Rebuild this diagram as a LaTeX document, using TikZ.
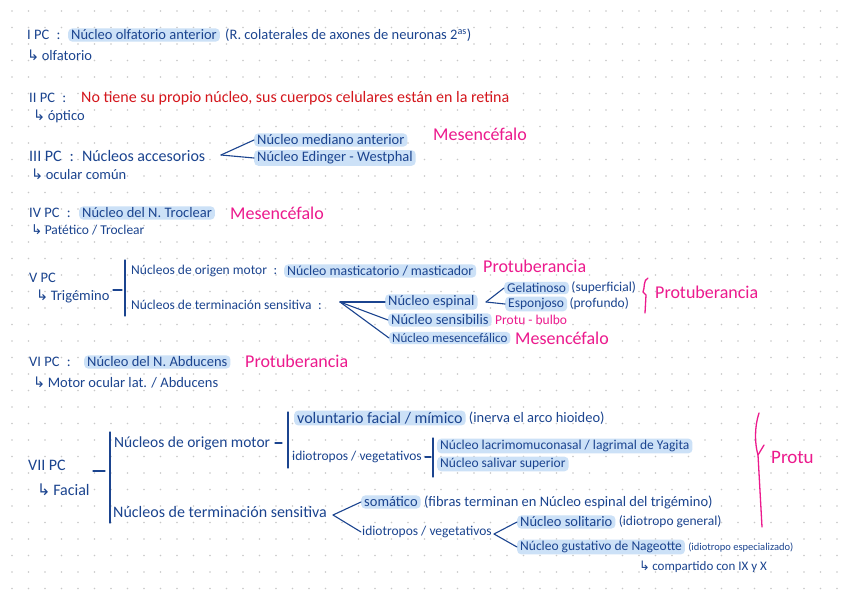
\documentclass[tikz,border=0pt]{standalone}
\usepackage{fontspec}
\setmainfont{Carlito}
\newfontfamily\arrowfont{DejaVu Sans}
\usetikzlibrary{positioning}
\definecolor{ink}{HTML}{1B448F}
\definecolor{hilite}{HTML}{CCE1F7}
\definecolor{pinkink}{HTML}{EC1A8D}
\definecolor{redink}{HTML}{D4161C}
\definecolor{griddot}{HTML}{C8C8C8}
\newcommand{\hookto}{{\arrowfont\char"21B3}\,}

\begin{document}
\begin{tikzpicture}[x=1pt, y=-1pt,
txt/.style={anchor=west, inner sep=1pt, text=ink, font=\fontsize{14.5}{16}\selectfont},
txtbig/.style={txt, font=\fontsize{16}{18}\selectfont},
txtmid/.style={txt, font=\fontsize{13}{15}\selectfont},
txtsmall/.style={txt, font=\fontsize{13.5}{15}\selectfont},
txttiny/.style={txt, font=\fontsize{10.5}{12}\selectfont},
hl/.style={fill=hilite, rounded corners=4pt, inner xsep=3pt, inner ysep=1.5pt},
mag/.style={anchor=west, inner sep=1pt, text=pinkink, font=\fontsize{18}{20}\selectfont},
stroke/.style={draw=ink, line width=1.1pt, line cap=round},
pinkstroke/.style={draw=pinkink, line width=1.3pt, line cap=round, line join=round},
]
\useasboundingbox (0,0) rectangle (848,599);
\fill[white] (0,0) rectangle (848,599);
\foreach \gx in {0,...,50}
  \foreach \gy in {0,...,35}
    \fill[griddot] ({12+16.5*\gx},{11+16.5*\gy}) circle (0.9pt);

%Nodes
% I
\node[txt]          (pcI)     at (26,35)  {I PC\enspace:};
\node[txt,hl]       (olfnuc)  at (68,35)  {Núcleo olfatorio anterior};
\node[txt]          (olframa) [right=4pt of olfnuc] {(R. colaterales de axones de neuronas 2\textsuperscript{as})};
\node[txt]          (olfname) at (26,55)  {\hookto olfatorio};
% II
\node[txt]          (pcII)    at (28,98)  {II PC\enspace:};
\node[txt,text=redink,font=\fontsize{16}{18}\selectfont] (optnote) at (80,98) {No tiene su propio núcleo, sus cuerpos celulares están en la retina};
\node[txt]          (optname) at (32,116) {\hookto óptico};
% III
\node[txtbig]       (pcIII)   at (28,156) {III PC\enspace:\enspace Núcleos accesorios};
\node[txt,hl]       (medant)  at (254,140) {Núcleo mediano anterior};
\node[txt,hl]       (edwest)  at (254,158) {Núcleo Edinger - Westphal};
\node[mag]          (mesIII)  at (432,134) {Mesencéfalo};
\node[txt]          (ocuname) at (30,174) {\hookto ocular común};
\coordinate         (accfan)  at (221,155);
% IV
\node[txt]          (pcIV)    at (28,213) {IV PC\enspace:};
\node[txt,hl]       (trocnuc) at (79,213) {Núcleo del N. Troclear};
\node[mag]          (mesIV)   at (229,213) {Mesencéfalo};
\node[txtsmall]     (trocname) at (30,230) {\hookto Patético / Troclear};
% V
\node[txt]          (pcV)     at (28,278) {V PC};
\node[txt]          (trigname) at (35,296) {\hookto Trigémino};
\node[txtsmall]     (motV)    at (130,271) {Núcleos de origen motor\enspace:};
\node[txt,hl,font=\fontsize{13.8}{15}\selectfont] (mastnuc) at (284,271) {Núcleo masticatorio / masticador};
\node[mag]          (protV)   at (482,266) {Protuberancia};
\node[txtsmall]     (sensV)   at (130,305) {Núcleos de terminación sensitiva\enspace:};
\node[txt,hl]       (espnuc)  at (385,302) {Núcleo espinal};
\node[txtsmall,hl]  (gelat)   at (504,288) {Gelatinoso};
\node[txtsmall]     (gelnote) [right=1pt of gelat] {(superficial)};
\node[txtsmall,hl]  (espon)   at (505,304) {Esponjoso};
\node[txtsmall]     (espnote) [right=1pt of espon] {(profundo)};
\node[mag]          (protesp) at (654,292) {Protuberancia};
\node[txt,hl]       (sensnuc) at (388,320) {Núcleo sensibilis};
\node[mag,font=\fontsize{13.5}{15}\selectfont] (protbul) at (494,320) {Protu - bulbo};
\node[txtmid,hl]    (mesnuc)  at (389,338) {Núcleo mesencefálico};
\node[mag]          (mesV)    at (514,338) {Mesencéfalo};
\coordinate         (sensfan) at (340,302);
\coordinate         (espfan)  at (486,302);
% VI
\node[txt]          (pcVI)    at (28,362) {VI PC\enspace:};
\node[txt,hl]       (abdnuc)  at (84,362) {Núcleo del N. Abducens};
\node[mag]          (protVI)  at (244,361) {Protuberancia};
\node[txt]          (abdname) at (32,383) {\hookto Motor ocular lat. / Abducens};
% VII
\node[txtbig]       (pcVII)   at (27,465) {VII PC};
\node[txtbig]       (facname) at (36,490) {\hookto Facial};
\node[txt,font=\fontsize{15.5}{17}\selectfont] (motVII) at (113,443) {Núcleos de origen motor};
\node[txtbig,hl]    (volfac)  at (294,418) {voluntario facial / mímico};
\node[txt]          (volnote) [right=2pt of volfac] {(inerva el arco hioideo)};
\node[txtsmall]     (vegmot)  at (291,457) {idiotropos / vegetativos};
\node[txtsmall,hl]  (lacnuc)  at (437,446) {Núcleo lacrimomuconasal / lagrimal de Yagita};
\node[txtsmall,hl]  (salnuc)  at (437,464) {Núcleo salivar superior};
\node[txtbig]       (sensVII) at (112,512) {Núcleos de terminación sensitiva};
\node[txt,hl]       (somat)   at (361,502) {somático};
\node[txt]          (somnote) [right=2pt of somat] {(fibras terminan en Núcleo espinal del trigémino)};
\node[txtsmall]     (vegsens) at (361,532) {idiotropos / vegetativos};
\node[txt,hl]       (solnuc)  at (517,522) {Núcleo solitario};
\node[txtsmall]     (solnote) [right=2pt of solnuc] {(idiotropo general)};
\node[txtsmall,hl]  (gusnuc)  at (517,547) {Núcleo gustativo de Nageotte};
\node[txttiny]      (gusnote) [right=2pt of gusnuc] {(idiotropo especializado)};
\node[txtmid]       (compart) at (638,567) {\hookto compartido con IX y X};
\node[mag,font=\fontsize{19}{21}\selectfont] (protVII) at (770,457) {Protu};
\coordinate         (sensVIIfan) at (333,515);
\coordinate         (vegfan)  at (494,534);

%Lines
% III
\draw[stroke] (accfan) -- (medant.west);
\draw[stroke] (accfan) -- (edwest.west);
% V
\draw[stroke] (113,290) -- (122,290);
\draw[stroke] (125,260) -- (125,316);
\draw[stroke] (sensfan) -- (espnuc.west);
\draw[stroke] (sensfan) -- (sensnuc.west);
\draw[stroke] (sensfan) -- (mesnuc.west);
\draw[stroke] (espfan) -- (gelat.west);
\draw[stroke] (espfan) -- (espon.west);
\draw[pinkstroke] (648,278) .. controls (643,280) and (645,288) .. (643,292) -- (646,295) -- (645,313);
% VII
\draw[stroke] (93,471) -- (105,471);
\draw[stroke] (110,432) -- (110,523);
\draw[stroke] (275,443) -- (282,443);
\draw[stroke] (288,412) -- (288,468);
\draw[stroke] (425,457) -- (431,457);
\draw[stroke] (433,438) -- (433,477);
\draw[stroke] (sensVIIfan) -- (somat.west);
\draw[stroke] (sensVIIfan) -- (vegsens.west);
\draw[stroke] (vegfan) -- (solnuc.west);
\draw[stroke] (vegfan) -- (gusnuc.west);
\draw[pinkstroke] (759,413) .. controls (754,428) and (755,445) .. (758,455) -- (762,527);
\draw[pinkstroke] (758,455) -- (764,445);
\end{tikzpicture}
\end{document}
